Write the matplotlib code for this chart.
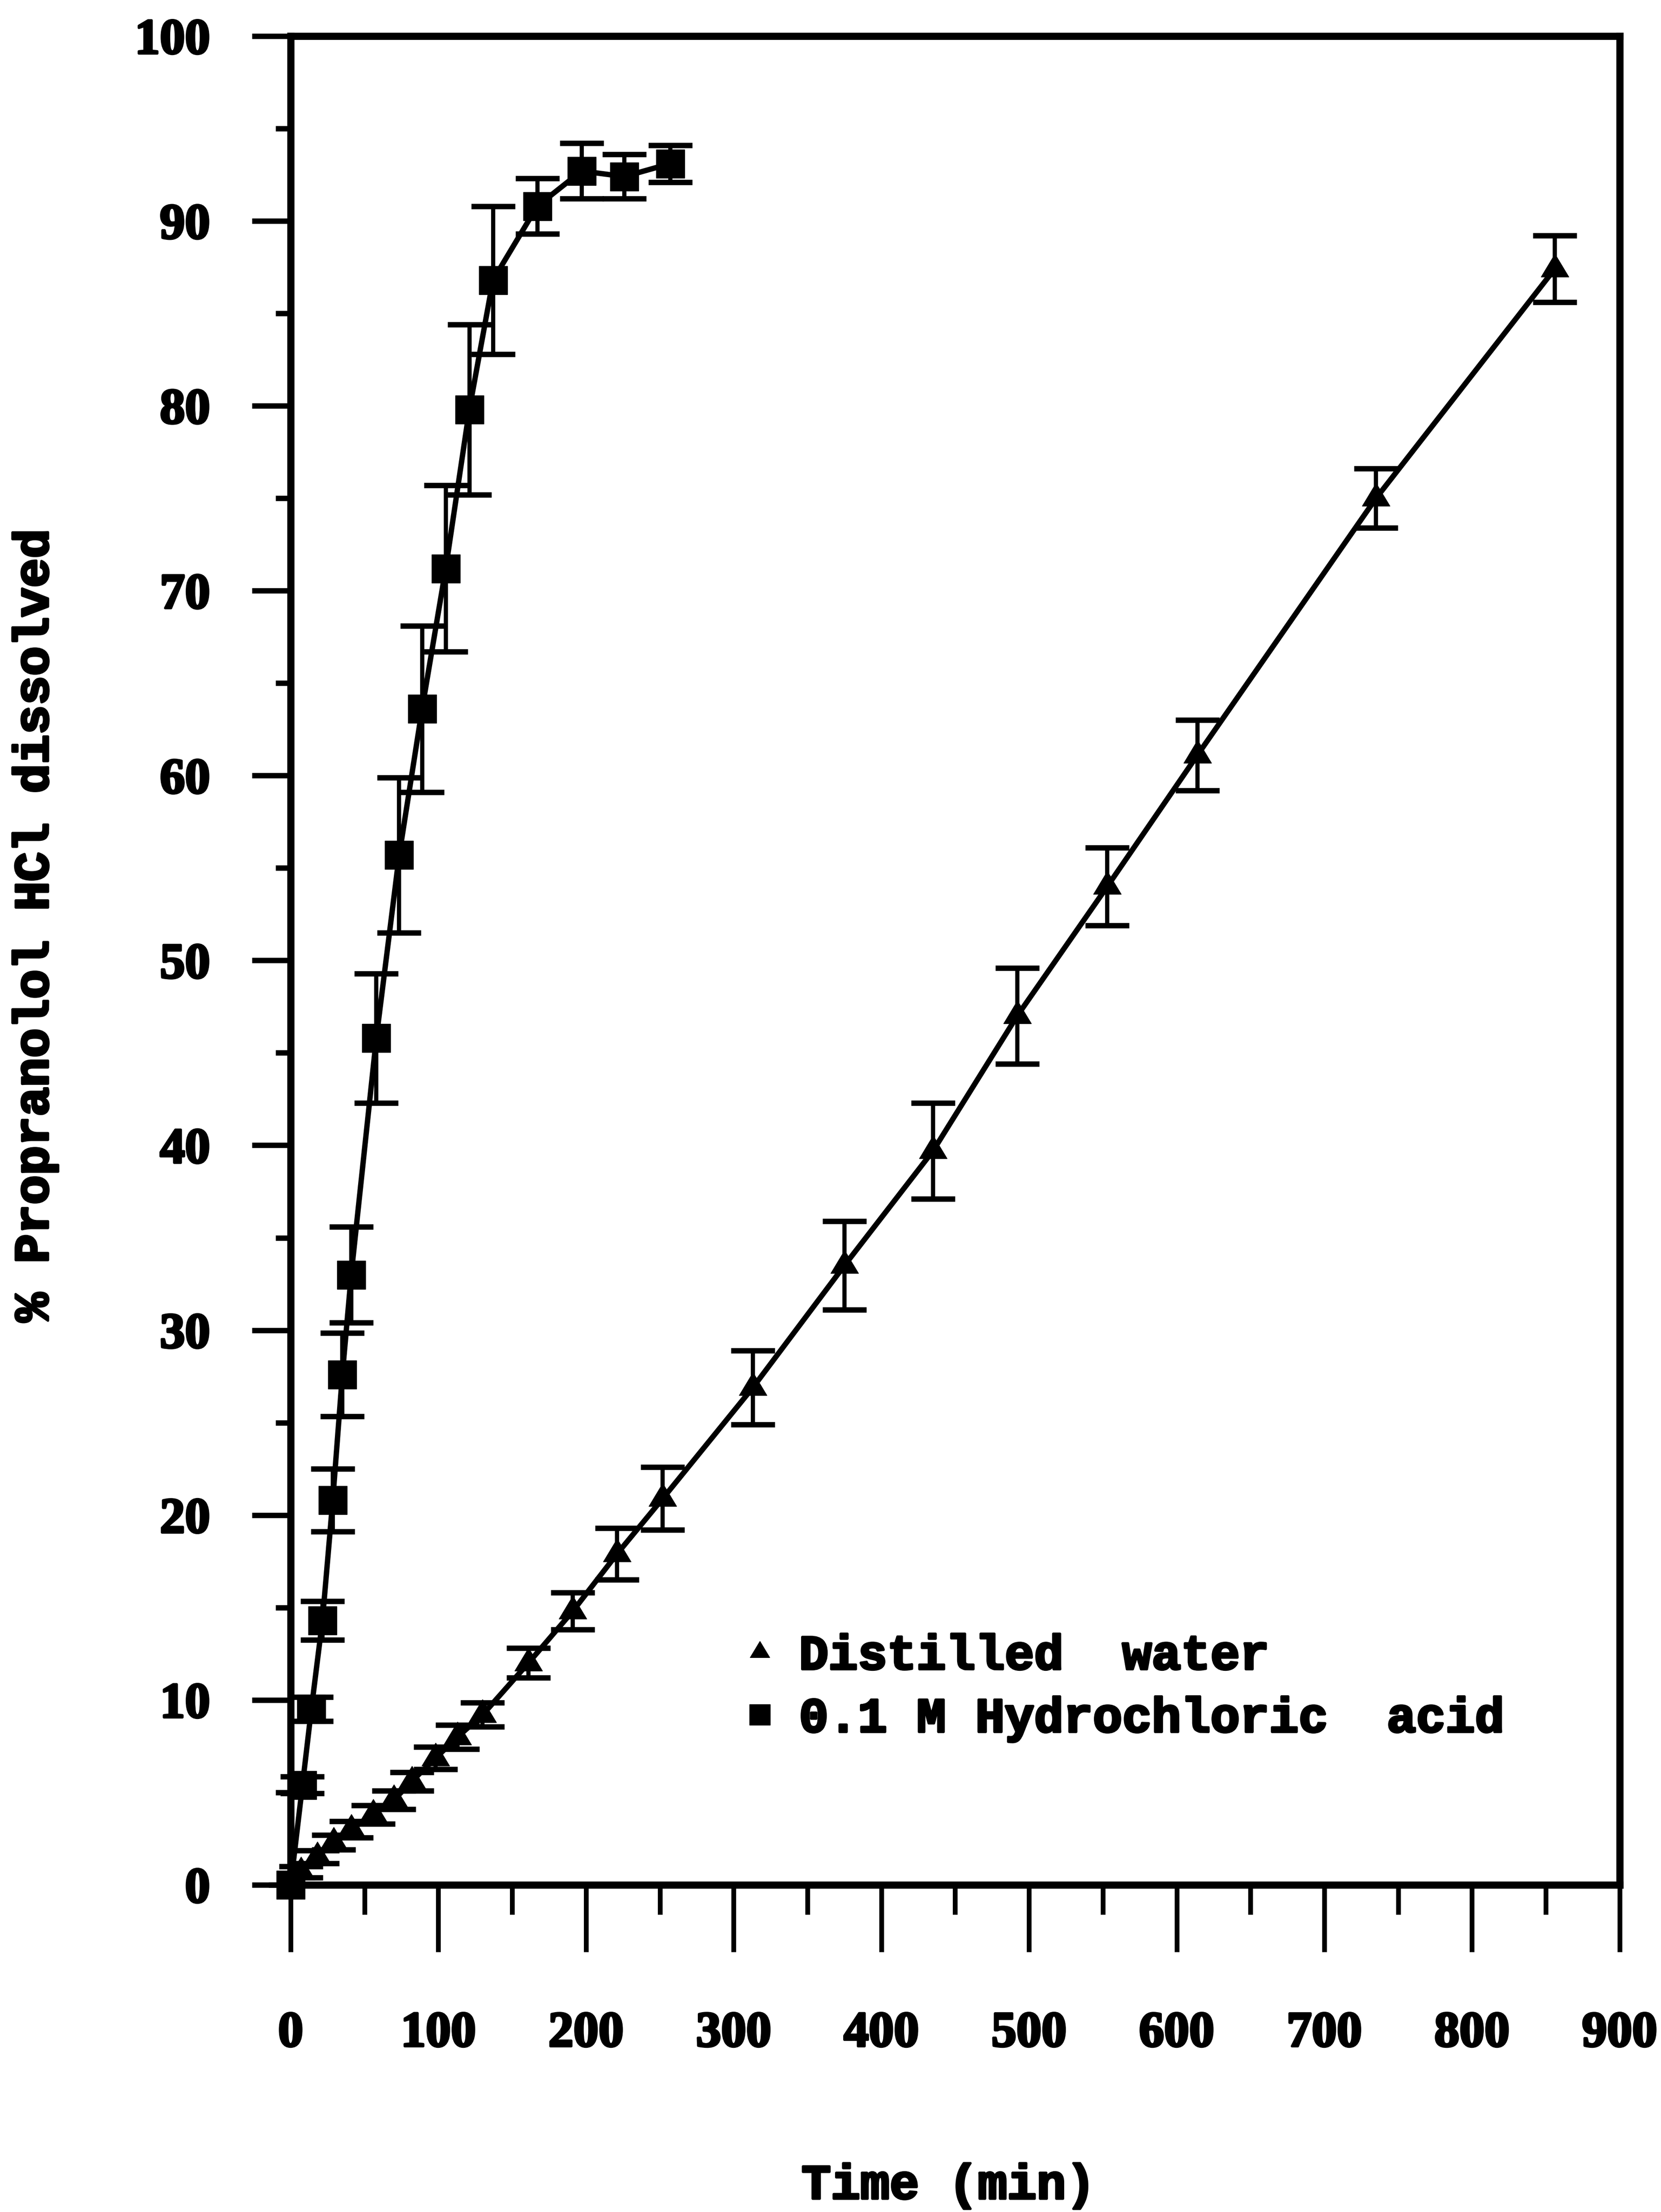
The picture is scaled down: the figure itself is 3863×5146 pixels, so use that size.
import matplotlib
matplotlib.use("Agg")
import matplotlib.pyplot as plt
from matplotlib.path import Path
from matplotlib.lines import Line2D
from matplotlib.ticker import MultipleLocator
import matplotlib.patheffects as pe

# Propranolol HCl release in distilled water (triangles)
water_time = [0, 7, 18, 29, 41, 56, 70, 82, 98, 113, 130, 161, 191, 221, 252,
              313, 375, 435, 492, 553, 614, 735, 856]
water_pct = [0, 0.7, 1.5, 2.3, 3.0, 3.8, 4.6, 5.6, 6.85, 8.0, 9.2, 12.0, 14.8,
             17.9, 20.9, 26.9, 33.5, 39.7, 47.0, 54.0, 61.1, 75.0, 87.4]
water_sd = [0, 0.3, 0.35, 0.4, 0.45, 0.5, 0.5, 0.5, 0.6, 0.65, 0.65, 0.8, 1.0,
            1.4, 1.7, 2.0, 2.4, 2.6, 2.6, 2.1, 1.9, 1.6, 1.8]

# Propranolol HCl release in 0.1 M hydrochloric acid (squares)
acid_time = [0, 8, 14, 21.5, 28.5, 35, 41, 58, 73.5, 89, 105, 121, 137, 167,
             197, 226, 257]
acid_pct = [0, 5.4, 9.5, 14.3, 20.8, 27.6, 33.0, 45.8, 55.7, 63.6, 71.2, 79.8,
            86.8, 90.8, 92.7, 92.4, 93.1]
acid_sd = [0, 0.45, 0.65, 1.05, 1.7, 2.25, 2.6, 3.5, 4.2, 4.5, 4.5, 4.6, 4.0,
           1.5, 1.5, 1.2, 1.0]

x_ticks = [0, 100, 200, 300, 400, 500, 600, 700, 800, 900]
y_ticks = [0, 10, 20, 30, 40, 50, 60, 70, 80, 90, 100]

FONT = "Liberation Mono"
NUM_FONT = "Liberation Serif"
INK = [pe.withStroke(linewidth=4, foreground="black")]

# flat, centred triangle marker
tri = Path([(0, 1.1), (-1.0, -0.56), (1.0, -0.56), (0, 1.1)],
           [Path.MOVETO, Path.LINETO, Path.LINETO, Path.CLOSEPOLY])

fig = plt.figure(figsize=(38.63, 51.46), dpi=100)
ax = fig.add_axes([0.175, 0.1479, 0.8001, 0.8358])

common = dict(color="black", ecolor="black", elinewidth=7, capsize=37,
              capthick=9, linewidth=9, clip_on=False)

cw = ax.errorbar(water_time, water_pct, yerr=water_sd, marker=tri,
                 markersize=51, **common)
ca = ax.errorbar(acid_time, acid_pct, yerr=acid_sd, marker="s",
                 markersize=48, **common)
for cont in (cw, ca):
    for art in cont.lines[1]:
        art.set_clip_on(False)
    for coll in cont.lines[2]:
        coll.set_clip_on(False)

ax.set_xlim(0, 900)
ax.set_ylim(0, 100)
ax.set_xticks(x_ticks)
ax.set_yticks(y_ticks)
ax.xaxis.set_minor_locator(MultipleLocator(50))
ax.yaxis.set_minor_locator(MultipleLocator(5))

for side in ("left", "right", "top", "bottom"):
    ax.spines[side].set_linewidth(12)

ax.tick_params(axis="x", which="major", direction="out", length=112, width=8,
               pad=100, labelsize=84)
ax.tick_params(axis="x", which="minor", direction="out", length=50, width=8)
ax.tick_params(axis="y", which="major", direction="out", length=65, width=9,
               pad=70, labelsize=84)
ax.tick_params(axis="y", which="minor", direction="out", length=25, width=9)

for lab in ax.get_xticklabels() + ax.get_yticklabels():
    lab.set_fontfamily(NUM_FONT)
    lab.set_fontweight("bold")
    lab.set_path_effects(INK)

ax.set_xlabel("Time (min)", fontsize=82, fontfamily=FONT, fontweight="bold",
              va="center", path_effects=INK)
ax.xaxis.set_label_coords(0.495, -0.163)
ax.set_ylabel("% Propranolol HCl dissolved", fontsize=82, fontfamily=FONT,
              fontweight="bold", va="center", path_effects=INK)
ax.yaxis.set_label_coords(-0.192, 0.519)

handles = [
    Line2D([], [], marker=tri, markersize=36, color="black", linestyle="none"),
    Line2D([], [], marker="s", markersize=34, color="black", linestyle="none"),
]
labels = ["Distilled  water", "0.1 M Hydrochloric  acid"]
leg = ax.legend(handles, labels, loc="upper left",
                bbox_to_anchor=(0.342, 0.1357), frameon=False, borderpad=0,
                borderaxespad=0, handlelength=0.6, handletextpad=0.5,
                labelspacing=0.35,
                prop={"family": FONT, "weight": "bold", "size": 82})
for t in leg.get_texts():
    t.set_path_effects(INK)

fig.savefig("out.png", dpi=100, facecolor="white")
